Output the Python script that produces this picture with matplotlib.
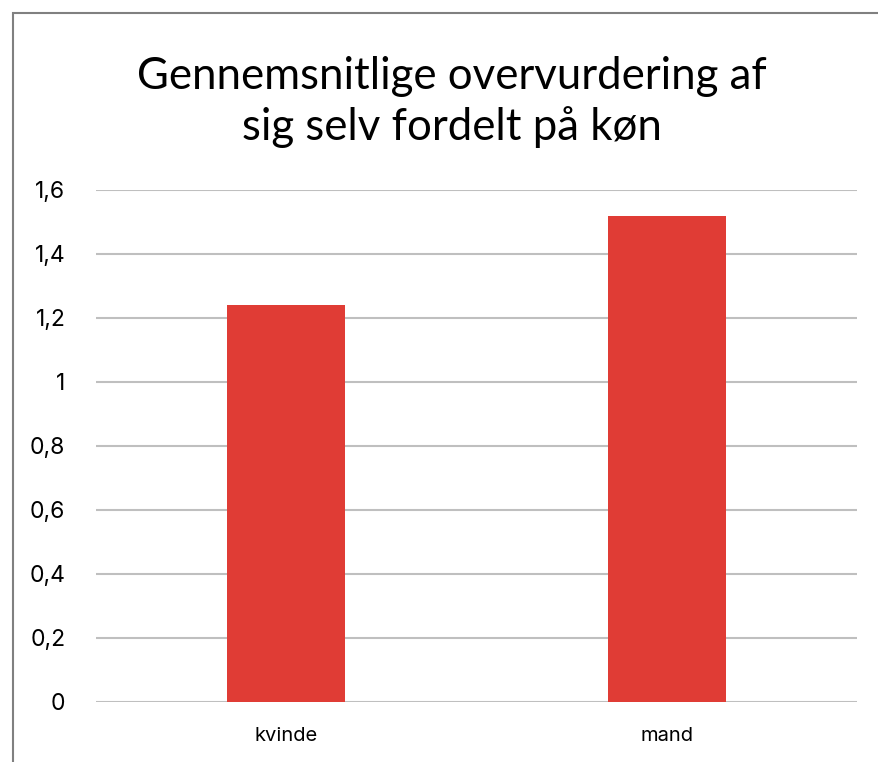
import numpy as np
import matplotlib.pyplot as plt
from matplotlib.patches import Rectangle

categories = ["kvinde", "mand"]
values = [1.24, 1.52]
yticks = [0, 0.2, 0.4, 0.6, 0.8, 1.0, 1.2, 1.4, 1.6]
ytick_labels = ["0", "0,2", "0,4", "0,6", "0,8", "1", "1,2", "1,4", "1,6"]
title = "Gennemsnitlige overvurdering af\nsig selv fordelt på køn"

W, H = 879, 762
fig = plt.figure(figsize=(W / 100, H / 100), dpi=100)
ax = fig.add_axes([96 / W, 1 - 702 / H, (857 - 96) / W, (702 - 190) / H])

x = np.arange(len(categories))
ax.bar(x, values, width=0.31, color="#E03C35", zorder=3)
ax.set_xlim(-0.5, len(categories) - 0.5)
ax.set_ylim(0, 1.6)

ax.set_yticks(yticks)
ax.set_yticklabels(ytick_labels, fontsize=16.5, family="Inter")
ax.set_xticks(x)
ax.set_xticklabels(categories, fontsize=14.5, family="Inter")
ax.tick_params(axis="y", length=0, pad=22)
ax.tick_params(axis="x", length=0, pad=18)
ax.grid(axis="y", color="#BFBFBF", linewidth=1.5, zorder=0)
for s in ax.spines.values():
    s.set_visible(False)

fig.text(452 / W, 1 - 102 / H, title, ha="center", va="center",
         fontsize=31.5, family="Lato", linespacing=1.25)

# outer chart border (runs off the right and bottom edges)
fig.patches.append(Rectangle((13 / W, -0.05), 1.0, 1 - 13 / H + 0.05,
                             transform=fig.transFigure, fill=False,
                             edgecolor="#808080", linewidth=1.5))

fig.savefig("out.png", dpi=100)
